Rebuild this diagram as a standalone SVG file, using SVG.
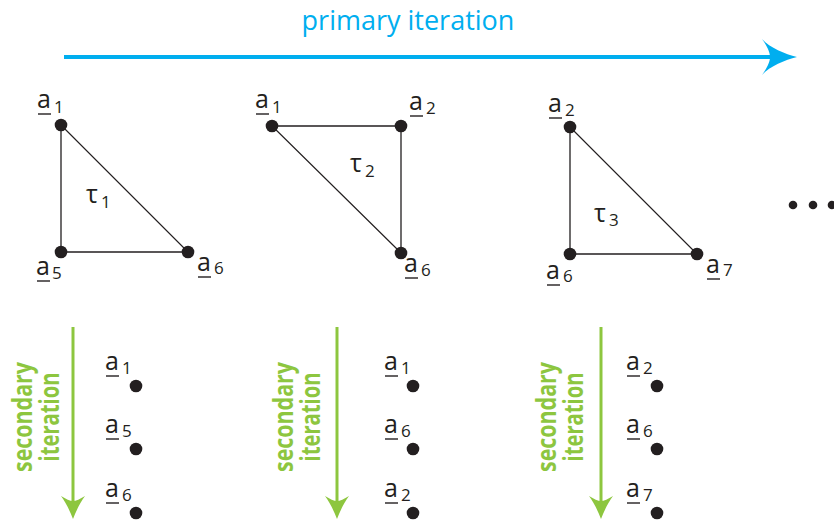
<svg xmlns="http://www.w3.org/2000/svg" width="834" height="525" viewBox="0 0 834 525">
<style>
.lbl{font-family:"Open Sans","Liberation Sans",sans-serif;font-size:25px;fill:#231F20}
.tau{font-family:"Open Sans","Liberation Sans",sans-serif;font-size:25px;fill:#231F20}
.sub{font-family:"Open Sans","Liberation Sans",sans-serif;font-size:17px;fill:#231F20}
.ul{stroke:#231F20;stroke-width:1.4}
.dot{fill:#231F20}
.edge{stroke:#231F20;stroke-width:1.3;fill:none}
.sec{font-family:"Open Sans","Liberation Sans",sans-serif;font-size:26px;font-weight:bold;fill:#8DC63F}
.garrow{stroke:#8DC63F;stroke-width:3}
.ghead{fill:#8DC63F}
.prim{font-family:"Open Sans","Liberation Sans",sans-serif;font-size:27px;fill:#00AEEF}
</style>
<rect width="834" height="525" fill="#ffffff"/>

<g id="primary-iteration">
<text class="prim" x="408" y="30" text-anchor="middle">primary iteration</text>
<line x1="64" y1="57" x2="772" y2="57" stroke="#00AEEF" stroke-width="4"/>
<path d="M797,57 C785,60 770,66 762,75 C767,68 770,62 770,57 C770,52 767,46 762,39 C770,48 785,54 797,57 Z" fill="#00AEEF"/>
</g>

<g id="connectors">
<polygon class="edge" points="61,125 61,252 188,252"/>
<polygon class="edge" points="272,126 401,126 401,253"/>
<polygon class="edge" points="570,127 570,254 697,254"/>
</g>

<g id="t1">
<g id="t1-a1"><circle class="dot" cx="61" cy="125" r="6.3"/><text class="lbl" x="37" y="108">a</text><line class="ul" x1="38" y1="114" x2="51" y2="114"/><text class="sub" x="54" y="113">1</text></g>
<g id="t1-a5"><circle class="dot" cx="61" cy="252" r="6.3"/><text class="lbl" x="36" y="275">a</text><line class="ul" x1="37" y1="281" x2="50" y2="281"/><text class="sub" x="52" y="279">5</text></g>
<g id="t1-a6"><circle class="dot" cx="188" cy="252" r="6.3"/><text class="lbl" x="197" y="271">a</text><line class="ul" x1="198" y1="277" x2="211" y2="277"/><text class="sub" x="214" y="274">6</text></g>
<g id="t1-tau"><text class="tau" x="86" y="203">τ</text><text class="sub" x="101" y="208">1</text></g>
</g>

<g id="t2">
<g id="t2-a1"><circle class="dot" cx="272" cy="126" r="6.3"/><text class="lbl" x="255" y="108">a</text><line class="ul" x1="256" y1="114" x2="269" y2="114"/><text class="sub" x="272" y="113">1</text></g>
<g id="t2-a2"><circle class="dot" cx="401" cy="126" r="6.3"/><text class="lbl" x="409" y="110">a</text><line class="ul" x1="410" y1="116" x2="423" y2="116"/><text class="sub" x="426" y="114">2</text></g>
<g id="t2-a6"><circle class="dot" cx="401" cy="253" r="6.3"/><text class="lbl" x="404" y="272">a</text><line class="ul" x1="405" y1="278" x2="418" y2="278"/><text class="sub" x="421" y="276">6</text></g>
<g id="t2-tau"><text class="tau" x="350" y="172">τ</text><text class="sub" x="365" y="177">2</text></g>
</g>

<g id="t3">
<g id="t3-a2"><circle class="dot" cx="570" cy="127" r="6.3"/><text class="lbl" x="548" y="112">a</text><line class="ul" x1="549" y1="118" x2="562" y2="118"/><text class="sub" x="565" y="116">2</text></g>
<g id="t3-a6"><circle class="dot" cx="570" cy="254" r="6.3"/><text class="lbl" x="546" y="279">a</text><line class="ul" x1="547" y1="285" x2="560" y2="285"/><text class="sub" x="563" y="282">6</text></g>
<g id="t3-a7"><circle class="dot" cx="697" cy="254" r="6.3"/><text class="lbl" x="706" y="273">a</text><line class="ul" x1="707" y1="279" x2="720" y2="279"/><text class="sub" x="723" y="276">7</text></g>
<g id="t3-tau"><text class="tau" x="594" y="222">τ</text><text class="sub" x="609" y="226">3</text></g>
</g>

<g id="ellipsis">
<circle class="dot" cx="793" cy="205" r="4.3"/>
<circle class="dot" cx="813" cy="205" r="4.3"/>
<circle class="dot" cx="832" cy="205" r="4.3"/>
</g>

<g id="col1">
<line class="garrow" x1="73" y1="327" x2="73" y2="505"/>
<path class="ghead" d="M73,519 C70,511 66,503 61,496 C66,499 70,501 73,501 C76,501 80,499 85,496 C80,503 76,511 73,519 Z"/>
<text class="sec" transform="translate(32,417) rotate(-90)" text-anchor="middle" textLength="110" lengthAdjust="spacingAndGlyphs">secondary</text>
<text class="sec" transform="translate(59,417) rotate(-90)" text-anchor="middle" textLength="89" lengthAdjust="spacingAndGlyphs">iteration</text>
<g id="c1-a1"><text class="lbl" x="105" y="370">a</text><line class="ul" x1="106" y1="376" x2="119" y2="376"/><text class="sub" x="122" y="374">1</text><circle class="dot" cx="136" cy="386" r="6.3"/></g>
<g id="c1-a5"><text class="lbl" x="105" y="433">a</text><line class="ul" x1="106" y1="439" x2="119" y2="439"/><text class="sub" x="122" y="437">5</text><circle class="dot" cx="136" cy="449" r="6.3"/></g>
<g id="c1-a6"><text class="lbl" x="105" y="497">a</text><line class="ul" x1="106" y1="503" x2="119" y2="503"/><text class="sub" x="122" y="501">6</text><circle class="dot" cx="136" cy="513" r="6.3"/></g>
</g>

<g id="col2">
<line class="garrow" x1="337" y1="327" x2="337" y2="505"/>
<path class="ghead" d="M337,519 C334,511 330,503 325,496 C330,499 334,501 337,501 C340,501 344,499 349,496 C344,503 340,511 337,519 Z"/>
<text class="sec" transform="translate(293,417) rotate(-90)" text-anchor="middle" textLength="110" lengthAdjust="spacingAndGlyphs">secondary</text>
<text class="sec" transform="translate(320,417) rotate(-90)" text-anchor="middle" textLength="89" lengthAdjust="spacingAndGlyphs">iteration</text>
<g id="c2-a1"><text class="lbl" x="384" y="370">a</text><line class="ul" x1="385" y1="376" x2="398" y2="376"/><text class="sub" x="401" y="374">1</text><circle class="dot" cx="413" cy="386" r="6.3"/></g>
<g id="c2-a6"><text class="lbl" x="384" y="433">a</text><line class="ul" x1="385" y1="439" x2="398" y2="439"/><text class="sub" x="401" y="437">6</text><circle class="dot" cx="413" cy="449" r="6.3"/></g>
<g id="c2-a2"><text class="lbl" x="384" y="497">a</text><line class="ul" x1="385" y1="503" x2="398" y2="503"/><text class="sub" x="401" y="501">2</text><circle class="dot" cx="413" cy="513" r="6.3"/></g>
</g>

<g id="col3">
<line class="garrow" x1="601" y1="327" x2="601" y2="505"/>
<path class="ghead" d="M601,519 C598,511 594,503 589,496 C594,499 598,501 601,501 C604,501 608,499 613,496 C608,503 604,511 601,519 Z"/>
<text class="sec" transform="translate(556,417) rotate(-90)" text-anchor="middle" textLength="110" lengthAdjust="spacingAndGlyphs">secondary</text>
<text class="sec" transform="translate(583,417) rotate(-90)" text-anchor="middle" textLength="89" lengthAdjust="spacingAndGlyphs">iteration</text>
<g id="c3-a2"><text class="lbl" x="626" y="370">a</text><line class="ul" x1="627" y1="376" x2="640" y2="376"/><text class="sub" x="643" y="374">2</text><circle class="dot" cx="657" cy="386" r="6.3"/></g>
<g id="c3-a6"><text class="lbl" x="626" y="433">a</text><line class="ul" x1="627" y1="439" x2="640" y2="439"/><text class="sub" x="643" y="437">6</text><circle class="dot" cx="657" cy="449" r="6.3"/></g>
<g id="c3-a7"><text class="lbl" x="626" y="497">a</text><line class="ul" x1="627" y1="503" x2="640" y2="503"/><text class="sub" x="643" y="501">7</text><circle class="dot" cx="657" cy="513" r="6.3"/></g>
</g>
</svg>
